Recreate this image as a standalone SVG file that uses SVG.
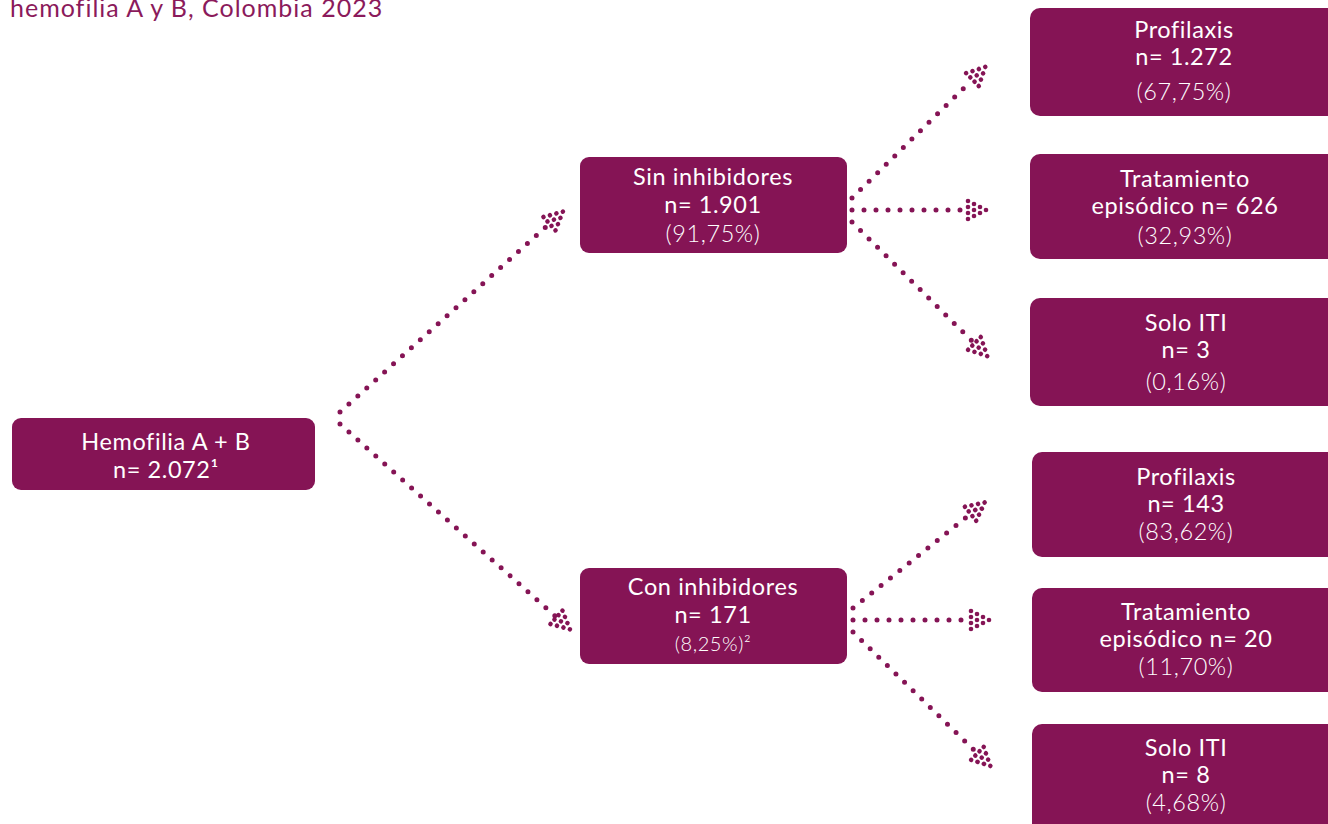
<svg xmlns="http://www.w3.org/2000/svg" width="1328" height="824" viewBox="0 0 1328 824">
<style>
.box{fill:#851455;}
.t{font-family:Lato,"Open Sans","Liberation Sans",sans-serif;font-size:23.5px;letter-spacing:0.6px;fill:#ffffff;text-anchor:middle;}
.p{font-weight:300;}
.title{font-family:Lato,"Open Sans","Liberation Sans",sans-serif;font-size:25px;letter-spacing:1px;fill:#8b1a5b;}
.con{fill:none;stroke:#851455;stroke-width:5;stroke-linecap:round;stroke-dasharray:0 12;}
</style>
<defs>
<marker id="dots" markerUnits="userSpaceOnUse" markerWidth="30" markerHeight="30" viewBox="-4 -13 30 26" refX="0" refY="0" orient="auto" overflow="visible">
<g fill="#851455">
<circle cx="2" cy="-9" r="2.3"/><circle cx="2" cy="-3" r="2.3"/><circle cx="2" cy="3" r="2.3"/><circle cx="2" cy="9" r="2.3"/>
<circle cx="8" cy="-6" r="2.3"/><circle cx="8" cy="0" r="2.3"/><circle cx="8" cy="6" r="2.3"/>
<circle cx="14" cy="-3" r="2.3"/><circle cx="14" cy="3" r="2.3"/>
<circle cx="20" cy="0" r="2.3"/>
</g>
</marker>
</defs>
<text class="title" x="10" y="17">hemofilia A y B, Colombia 2023</text>
<g id="connectors">
<path class="con" d="M340,412 L548,225" marker-end="url(#dots)"/>
<path class="con" d="M340,424 L555,616" marker-end="url(#dots)"/>
<path class="con" d="M852,198 L971,81" marker-end="url(#dots)"/>
<path class="con" d="M852,210 L966,210" marker-end="url(#dots)"/>
<path class="con" d="M852,222 L973,342" marker-end="url(#dots)"/>
<path class="con" d="M853,608 L969,515" marker-end="url(#dots)"/>
<path class="con" d="M853,620 L969,620" marker-end="url(#dots)"/>
<path class="con" d="M853,632 L976,752" marker-end="url(#dots)"/>
</g>
<g id="hemofilia">
<rect class="box" x="12" y="418" width="303" height="72" rx="9"/>
<text class="t" x="166" y="450">Hemofilia A + B</text>
<text class="t" x="166" y="478">n= 2.072¹</text>
</g>
<g id="sin">
<rect class="box" x="580" y="157" width="267" height="96" rx="9"/>
<text class="t" x="713" y="185">Sin inhibidores</text>
<text class="t" x="713" y="213">n= 1.901</text>
<text class="t p" x="713" y="242">(91,75%)</text>
</g>
<g id="con">
<rect class="box" x="580" y="568" width="267" height="96" rx="9"/>
<text class="t" x="713" y="595">Con inhibidores</text>
<text class="t" x="713" y="623">n= 171</text>
<text class="t p" x="713" y="651" style="font-size:20px">(8,25%)²</text>
</g>
<g id="prof1">
<rect class="box" x="1030" y="8" width="310" height="108" rx="10"/>
<text class="t" x="1184" y="38">Profilaxis</text>
<text class="t" x="1184" y="65">n= 1.272</text>
<text class="t p" x="1184" y="100">(67,75%)</text>
</g>
<g id="trat1">
<rect class="box" x="1030" y="154" width="310" height="105" rx="10"/>
<text class="t" x="1185" y="187">Tratamiento</text>
<text class="t" x="1185" y="214">episódico n= 626</text>
<text class="t p" x="1185" y="244">(32,93%)</text>
</g>
<g id="solo1">
<rect class="box" x="1030" y="298" width="310" height="108" rx="10"/>
<text class="t" x="1186" y="331">Solo ITI</text>
<text class="t" x="1186" y="358">n= 3</text>
<text class="t p" x="1186" y="390">(0,16%)</text>
</g>
<g id="prof2">
<rect class="box" x="1032" y="452" width="308" height="105" rx="10"/>
<text class="t" x="1186" y="485">Profilaxis</text>
<text class="t" x="1186" y="512">n= 143</text>
<text class="t p" x="1186" y="540">(83,62%)</text>
</g>
<g id="trat2">
<rect class="box" x="1032" y="588" width="308" height="104" rx="10"/>
<text class="t" x="1186" y="620">Tratamiento</text>
<text class="t" x="1186" y="647">episódico n= 20</text>
<text class="t p" x="1186" y="675">(11,70%)</text>
</g>
<g id="solo2">
<rect class="box" x="1032" y="724" width="308" height="110" rx="10"/>
<text class="t" x="1186" y="756">Solo ITI</text>
<text class="t" x="1186" y="783">n= 8</text>
<text class="t p" x="1186" y="811">(4,68%)</text>
</g>
</svg>
